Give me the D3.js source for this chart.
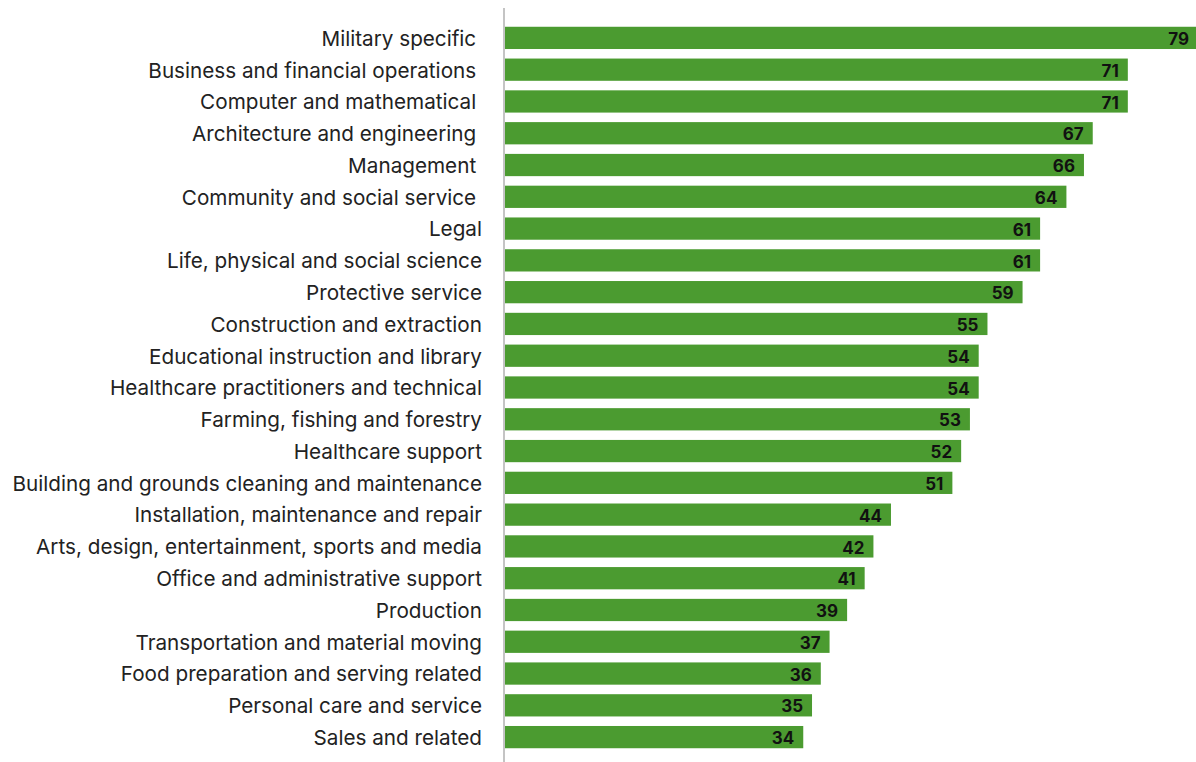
<!DOCTYPE html>
<html>
<head>
<meta charset="utf-8">
<script src="https://cdn.jsdelivr.net/npm/d3@7"></script>
<style>
  body { margin: 0; background: #fff; }
  svg { display: block; }
</style>
</head>
<body>
<script>
"use strict";
(function(){
    // occupations (a few carry a trailing space in the source)
    const occupations = [
        "Military specific ",
        "Business and financial operations ",
        "Computer and mathematical ",
        "Architecture and engineering ",
        "Management ",
        "Community and social service ",
        "Legal",
        "Life, physical and social science",
        "Protective service",
        "Construction and extraction",
        "Educational instruction and library",
        "Healthcare practitioners and technical",
        "Farming, fishing and forestry",
        "Healthcare support",
        "Building and grounds cleaning and maintenance",
        "Installation, maintenance and repair",
        "Arts, design, entertainment, sports and media",
        "Office and administrative support",
        "Production",
        "Transportation and material moving",
        "Food preparation and serving related",
        "Personal care and service",
        "Sales and related"
    ]
    const values = [79, 71, 71, 67, 66, 64, 61, 61, 59, 55, 54, 54, 53, 52, 51, 44, 42, 41, 39, 37, 36, 35, 34]

    const measurements = {
        width: 1196,
        height: 762,
        axisX: 504,
        top: 22,
        bottom: 753
    }

    const svg = d3.select("body").append("svg")
        .attr("width", measurements.width)
        .attr("height", measurements.height)

    const rows = occupations.map((d, i) => ({ name: d, value: values[i] }))

    let scaleX = d3.scaleLinear()
        .domain([0, 79])
        .range([measurements.axisX + 1, 1198])

    let scaleY = d3.scaleBand()
        .domain(occupations)
        .range([measurements.top, measurements.bottom])
        .paddingInner(0.3)
        .paddingOuter(0.15)

    // bars
    svg.selectAll(".bar")
        .data(rows)
        .enter()
        .append("rect")
        .attr("x", scaleX(0))
        .attr("y", d => scaleY(d.name))
        .attr("width", d => scaleX(d.value) - scaleX(0))
        .attr("height", scaleY.bandwidth())
        .attr("fill", "#4b9b30")

    // value labels inside bar end
    svg.selectAll(".val")
        .data(rows)
        .enter()
        .append("text")
        .attr("x", d => scaleX(d.value) - 9)
        .attr("y", d => scaleY(d.name) + scaleY.bandwidth() / 2)
        .attr("dy", "0.42em")
        .attr("text-anchor", "end")
        .style("font-family", "Inter, 'Noto Sans', sans-serif")
        .style("font-size", "17px")
        .style("font-weight", "bold")
        .style("fill", "#111")
        .text(d => d.value)

    // category labels
    svg.selectAll(".lab")
        .data(rows)
        .enter()
        .append("text")
        .attr("x", 482)
        .attr("y", d => scaleY(d.name) + scaleY.bandwidth() / 2)
        .attr("dy", "0.38em")
        .attr("text-anchor", "end")
        .attr("xml:space", "preserve")
        .style("white-space", "pre")
        .style("font-family", "Inter, 'Noto Sans', sans-serif")
        .style("font-size", "20.7px")
        .style("fill", "#222")
        .text(d => d.name)

    // axis line
    svg.append("line")
        .attr("x1", measurements.axisX)
        .attr("x2", measurements.axisX)
        .attr("y1", 8)
        .attr("y2", measurements.height)
        .attr("stroke", "#c4c4c4")
        .attr("stroke-width", 2)
})()
</script>
</body>
</html>
